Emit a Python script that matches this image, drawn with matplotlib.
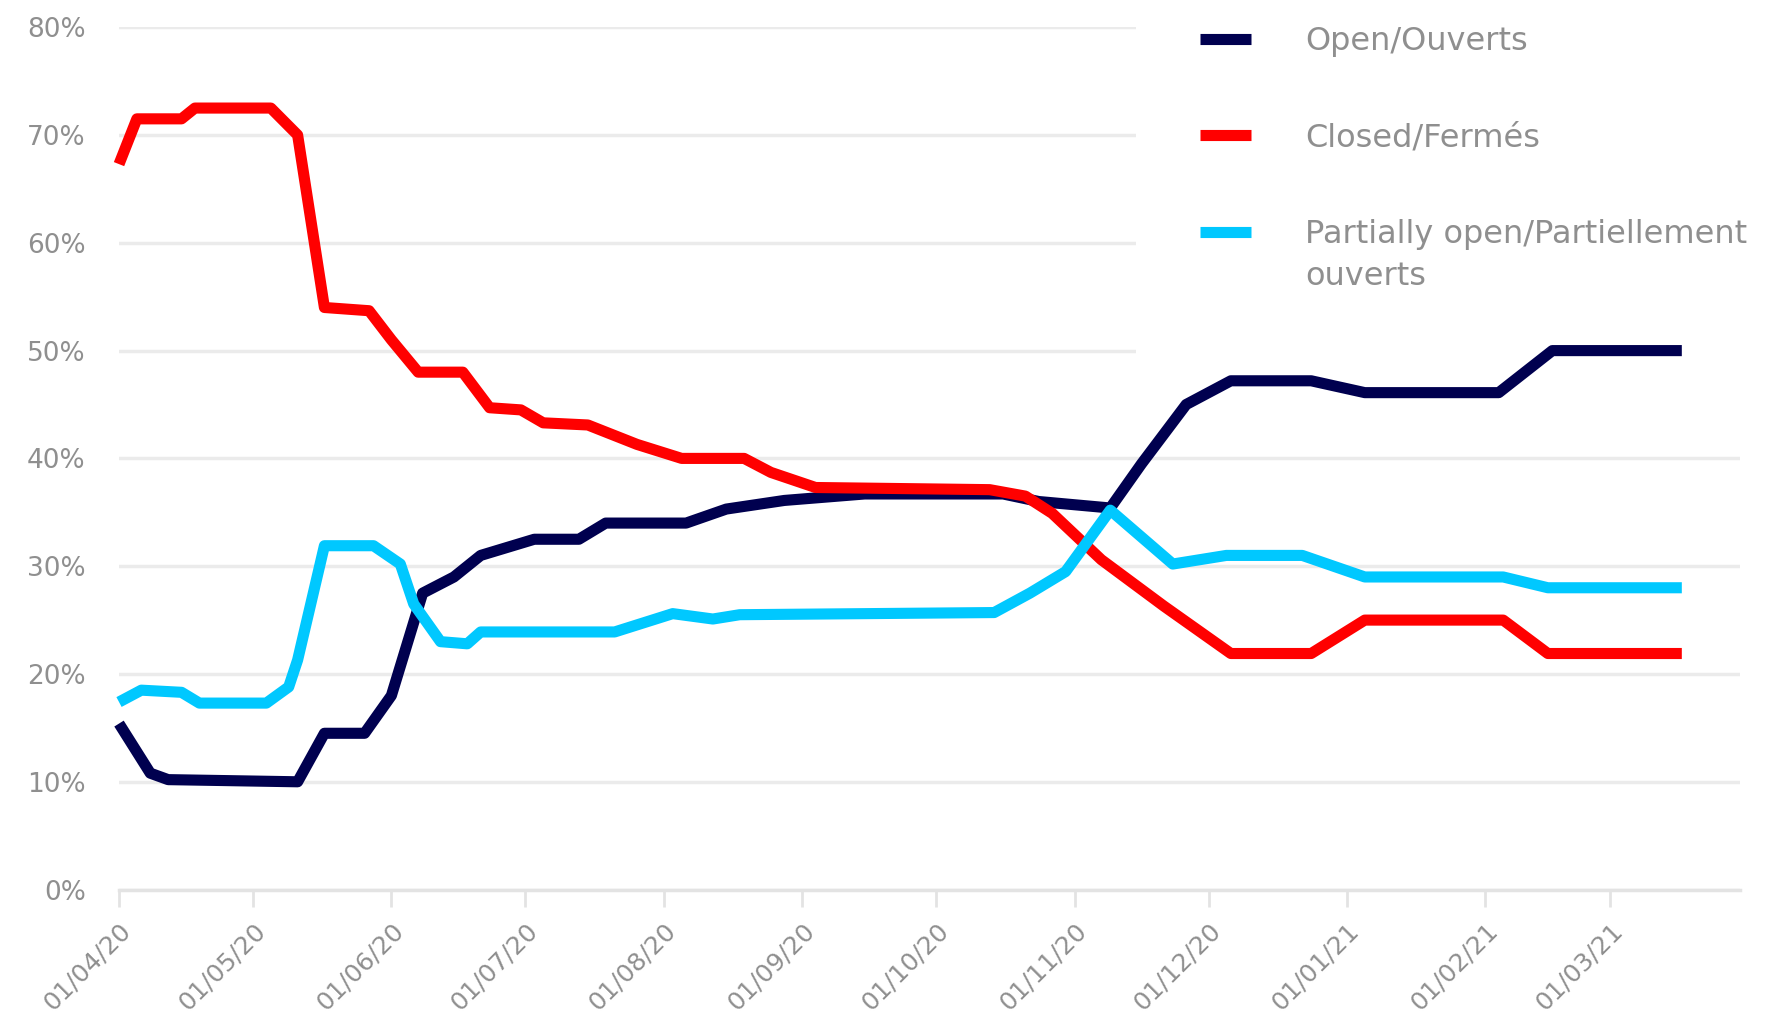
import matplotlib
matplotlib.use("Agg")
import matplotlib.pyplot as plt
import matplotlib.dates as mdates
from matplotlib.legend_handler import HandlerLine2D
import pandas as pd

# survey share of businesses, in percent
open_dates = ["2020-04-01", "2020-04-08", "2020-04-12", "2020-05-11", "2020-05-17",
              "2020-05-26", "2020-06-01", "2020-06-08", "2020-06-15", "2020-06-21",
              "2020-07-03", "2020-07-13", "2020-07-19", "2020-08-06", "2020-08-15",
              "2020-08-28", "2020-09-15", "2020-10-16", "2020-10-24", "2020-11-09",
              "2020-11-16", "2020-11-26", "2020-12-06", "2020-12-24", "2021-01-05",
              "2021-02-04", "2021-02-16", "2021-03-17"]
open_pct = [15.4, 10.8, 10.2, 10.0, 14.5, 14.5, 18.0, 27.5, 29.0, 31.0,
            32.5, 32.5, 34.0, 34.0, 35.3, 36.1, 36.7, 36.7, 36.0, 35.4,
            39.5, 45.0, 47.2, 47.2, 46.1, 46.1, 50.0, 50.0]

closed_dates = ["2020-04-01", "2020-04-05", "2020-04-15", "2020-04-18", "2020-05-05",
                "2020-05-11", "2020-05-17", "2020-05-27", "2020-06-01", "2020-06-07",
                "2020-06-17", "2020-06-23", "2020-06-30", "2020-07-05", "2020-07-15",
                "2020-07-26", "2020-08-05", "2020-08-19", "2020-08-25", "2020-09-04",
                "2020-10-13", "2020-10-21", "2020-10-27", "2020-11-07", "2020-11-21",
                "2020-12-06", "2020-12-24", "2021-01-05", "2021-02-05", "2021-02-15",
                "2021-03-17"]
closed_pct = [67.3, 71.5, 71.5, 72.5, 72.5, 70.0, 54.0, 53.7, 51.0, 48.0,
              48.0, 44.7, 44.5, 43.3, 43.1, 41.3, 40.0, 40.0, 38.7, 37.3,
              37.1, 36.5, 34.9, 30.6, 26.3, 21.9, 21.9, 25.0, 25.0, 21.9,
              21.9]

partial_dates = ["2020-04-01", "2020-04-06", "2020-04-15", "2020-04-19", "2020-05-04",
                 "2020-05-09", "2020-05-11", "2020-05-17", "2020-05-28", "2020-06-03",
                 "2020-06-06", "2020-06-12", "2020-06-18", "2020-06-21", "2020-07-21",
                 "2020-08-03", "2020-08-12", "2020-08-18", "2020-10-14", "2020-10-22",
                 "2020-10-30", "2020-11-09", "2020-11-23", "2020-12-05", "2020-12-22",
                 "2021-01-05", "2021-02-05", "2021-02-15", "2021-03-17"]
partial_pct = [17.4, 18.5, 18.3, 17.3, 17.3, 18.8, 21.3, 31.9, 31.9, 30.2,
               26.5, 23.0, 22.8, 23.9, 23.9, 25.6, 25.1, 25.5, 25.7, 27.5,
               29.5, 35.2, 30.2, 31.0, 31.0, 29.0, 29.0, 28.0, 28.0]

series_labels = ["Open/Ouverts", "Closed/Fermés", "Partially open/Partiellement\nouverts"]
series_colors = ["#00004f", "#ff0000", "#00c8ff"]


class FirstLineHandler(HandlerLine2D):
    # put the legend line level with the first line of a two-line label
    def __init__(self, dy, **kw):
        super().__init__(**kw)
        self.dy = dy

    def create_artists(self, legend, orig_handle, xdescent, ydescent, width, height, fontsize, trans):
        arts = super().create_artists(legend, orig_handle, xdescent, ydescent, width, height, fontsize, trans)
        for a in arts:
            a.set_ydata([y + self.dy for y in a.get_ydata()])
        return arts


fig = plt.figure(figsize=(17.79, 10.27), dpi=100)
ax = fig.add_axes([0.0669, 0.1338, 0.9111, 0.8397])

lines = []
all_series = [(open_dates, open_pct), (closed_dates, closed_pct), (partial_dates, partial_pct)]
for (d, v), lab, col in zip(all_series, series_labels, series_colors):
    ln, = ax.plot(pd.to_datetime(d), v, color=col, lw=8, label=lab,
                  solid_joinstyle="round", solid_capstyle="butt", clip_on=False, zorder=3)
    lines.append(ln)

ax.set_ylim(0, 80)
ax.set_xlim(pd.Timestamp("2020-04-01"), pd.Timestamp("2021-03-30"))
ax.set_yticks(range(0, 81, 10))
ax.yaxis.set_major_formatter(lambda v, p: f"{v:.0f}%")
ax.xaxis.set_major_locator(mdates.MonthLocator())
ax.xaxis.set_major_formatter(mdates.DateFormatter("%d/%m/%y"))

ax.grid(axis="y", color="#ebebeb", lw=2.5)
ax.set_axisbelow(True)
for s in ["top", "right", "left"]:
    ax.spines[s].set_visible(False)
ax.spines["bottom"].set_color("#e3e3e3")
ax.spines["bottom"].set_linewidth(2.5)

ax.tick_params(axis="y", length=0, pad=24, labelsize=19, labelcolor="#8f8f8f")
ax.tick_params(axis="x", length=12, width=2, color="#e3e3e3", pad=9,
               labelsize=18, labelcolor="#8f8f8f")
plt.setp(ax.get_xticklabels(), rotation=45, ha="right", va="top", rotation_mode="anchor")

leg = ax.legend(loc="upper left", bbox_to_anchor=(0.6386, 1.037), bbox_transform=fig.transFigure,
                borderaxespad=0, borderpad=2.0, fontsize=23, frameon=True, fancybox=False,
                edgecolor="none", facecolor="white", framealpha=1,
                handlelength=1.6, handletextpad=1.7, labelspacing=2.05,
                handler_map={lines[2]: FirstLineHandler(17.0)})
leg.set_zorder(2.5)  # hides the grid but stays under the data lines
for t in leg.get_texts():
    t.set_color("#8f8f8f")
    t.set_linespacing(1.45)

fig.savefig("out.png", dpi=100)
